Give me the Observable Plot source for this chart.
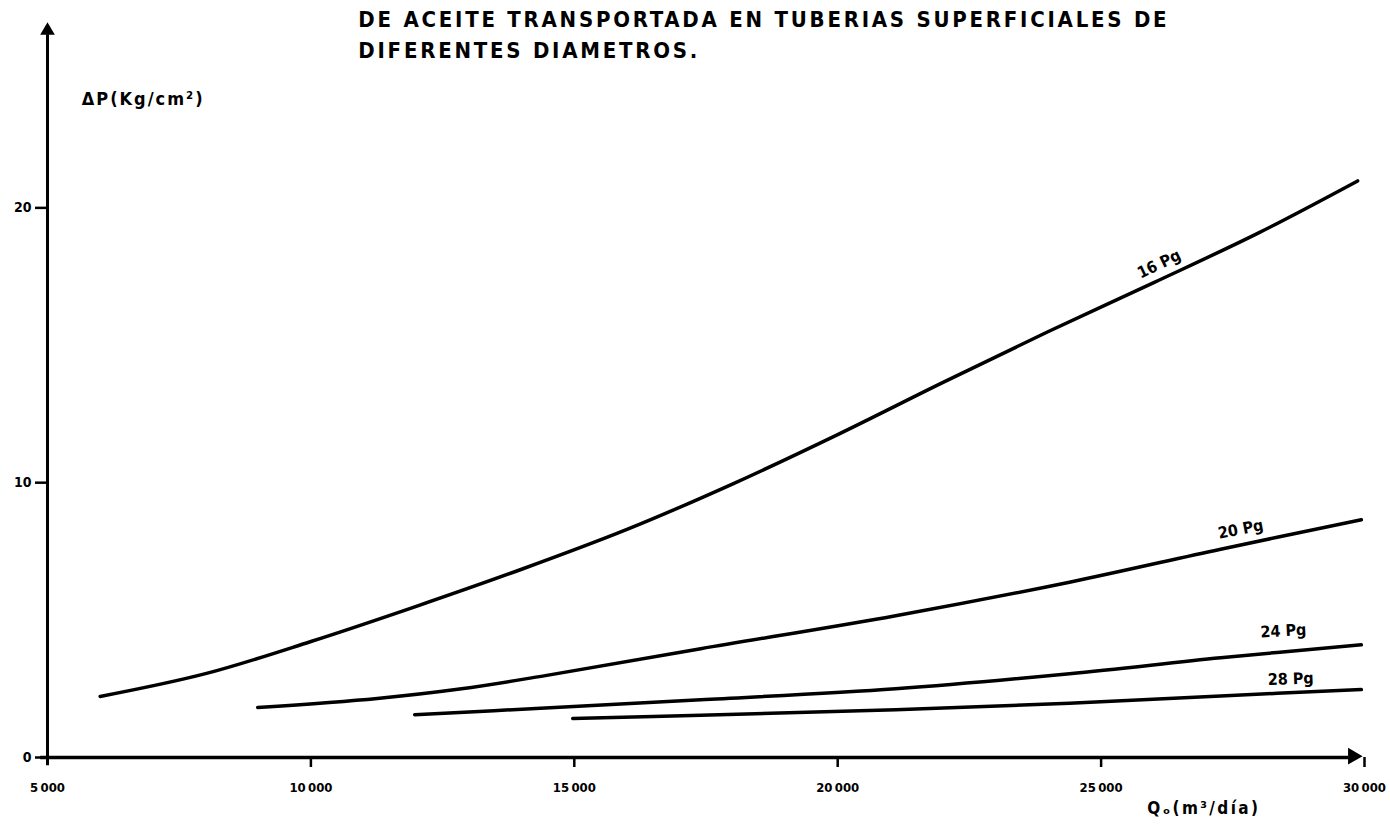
<!DOCTYPE html>
<html><head><meta charset="utf-8">
<script src="https://cdn.jsdelivr.net/npm/d3@7"></script>
<script src="https://cdn.jsdelivr.net/npm/@observablehq/plot@0.6"></script>
<style>
body{margin:0;background:#fff;}
#chart{width:1390px;height:840px;}
</style></head><body><div id="chart"></div>
<script>
// ---- data ----
const titleLines = ["DE ACEITE TRANSPORTADA EN TUBERIAS SUPERFICIALES DE", "DIFERENTES DIAMETROS."];
const titleY = [26.85, 25.72];
const yLabel = "ΔP(Kg/cm²)";
const xLabel = "Qₒ(m³/día)";
const xTickMarks = [10000, 15000, 20000, 25000, 30000];
const xTickLabels = [5000, 10000, 15000, 20000, 25000, 30000];
const yTicks = [0, 10, 20];

const q16 = [6000, 8000, 10000, 12000, 14000, 16000, 18000, 20000, 22000, 24000, 26000, 28000, 29870];
const p16 = [2.22, 3.05, 4.22, 5.5, 6.85, 8.3, 9.95, 11.75, 13.65, 15.5, 17.28, 19.1, 20.98];
const q20 = [8990, 11260, 12860, 14450, 17400, 21100, 24400, 27270, 29940];
const p20 = [1.82, 2.15, 2.5, 2.98, 3.96, 5.16, 6.38, 7.58, 8.65];
const q24 = [11970, 14450, 17400, 21100, 24400, 27270, 29940];
const p24 = [1.56, 1.8, 2.1, 2.5, 3.05, 3.63, 4.1];
const q28 = [14970, 17400, 21100, 24400, 27270, 29940];
const p28 = [1.42, 1.54, 1.74, 1.97, 2.24, 2.47];

const seriesNames = ["16 Pg", "20 Pg", "24 Pg", "28 Pg"];
const labelQ = [26100, 27650, 28460, 28600];
const labelP = [17.95, 8.3, 4.6, 2.85];
const labelRot = [-26, -11, -3, -2];

// ---- build tables ----
const series = [[q16, p16], [q20, p20], [q24, p24], [q28, p28]];
const rows = series.flatMap(([q, p], i) => q.map((v, j) => ({name: seriesNames[i], q: v, p: p[j]})));
const labels = seriesNames.map((n, i) => ({name: n, q: labelQ[i], p: labelP[i], r: labelRot[i]}));
const fmt = d3.formatLocale({thousands: "\u2009", grouping: [3], decimal: "."}).format(",");

const font = "DejaVu Sans Condensed, DejaVu Sans, sans-serif";

const chart = Plot.plot({
  width: 1390,
  height: 840,
  marginLeft: 47,
  marginRight: 26,
  marginTop: 15,
  marginBottom: 83,
  style: {fontFamily: font, background: "#fff", color: "#000"},
  x: {type: "linear", domain: [5000, 30000]},
  y: {type: "linear", domain: [0, 27]},
  marks: [
    // axis lines
    Plot.ruleX([5000], {y1: -0.3, y2: 26.3, stroke: "#000", strokeWidth: 3}),
    Plot.ruleY([0], {x1: 4870, x2: 29700, stroke: "#000", strokeWidth: 3.5}),
    Plot.dot([{q: 5000, p: 26.45}], {x: "q", y: "p", symbol: "triangle2", r: 7, fill: "#000", stroke: null}),
    Plot.dot([{q: 29780, p: 0.05}], {x: "q", y: "p", symbol: "triangle2", r: 8, rotate: 90, fill: "#000", stroke: null}),
    // ticks
    Plot.axisX({ticks: xTickMarks, tickSize: 10, strokeWidth: 2.5, tickFormat: () => "", label: null}),
    Plot.axisX({ticks: xTickLabels, tickSize: 0, tickPadding: 25, tickFormat: fmt, fontSize: 13, fontWeight: "bold", label: null}),
    Plot.axisY({ticks: yTicks, tickSize: 12, strokeWidth: 2.5, tickPadding: 4, tickFormat: d => String(d), fontSize: 14, fontWeight: "bold", label: null}),
    // curves
    Plot.line(rows, {x: "q", y: "p", z: "name", curve: "catmull-rom", stroke: "#000", strokeWidth: 3.5, strokeLinecap: "round"}),
    // curve labels
    Plot.text(labels, {x: "q", y: "p", text: "name", rotate: "r", fontSize: 16, fontWeight: "bold", fill: "#000"}),
    // axis titles
    Plot.text([yLabel], {x: 5650, y: 23.95, text: d => d, textAnchor: "start", fontSize: 18, fontWeight: "bold", fill: "#000"}),
    Plot.text([xLabel], {x: 26950, y: -1.85, text: d => d, fontSize: 17, fontWeight: "bold", fill: "#000"}),
    // title
    Plot.text(titleLines, {x: 10900, y: (d, i) => titleY[i], text: d => d, textAnchor: "start", fontSize: 22, fontWeight: "bold", fill: "#000"})
  ]
});
// letter spacing for the hand-lettered look
const spacing = new Map([[titleLines[0], "2.75px"], [titleLines[1], "2.75px"], [yLabel, "2px"], [xLabel, "2.4px"]]);
chart.querySelectorAll("text").forEach(t => {
  const s = spacing.get(t.textContent);
  if (s) t.style.letterSpacing = s;
});
document.getElementById("chart").appendChild(chart);
</script></body></html>
